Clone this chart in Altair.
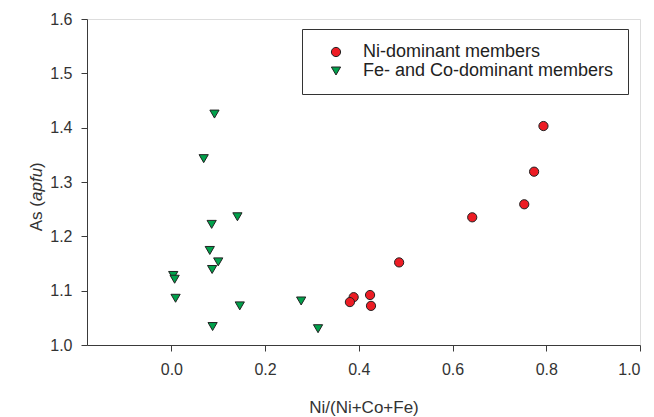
import altair as alt
import pandas as pd

# Ni-dominant members
ni_x = [0.794, 0.774, 0.753, 0.642, 0.486, 0.424, 0.389, 0.381, 0.426]
ni_y = [1.403, 1.319, 1.259, 1.235, 1.152, 1.092, 1.088, 1.079, 1.072]

# Fe- and Co-dominant members
fe_x = [0.092, 0.069, 0.141, 0.086, 0.082, 0.100, 0.087, 0.004, 0.007, 0.009, 0.146, 0.088, 0.277, 0.313]
fe_y = [1.425, 1.343, 1.236, 1.222, 1.174, 1.153, 1.139, 1.128, 1.121, 1.086, 1.072, 1.034, 1.081, 1.030]

groups = ["Ni-dominant members", "Fe- and Co-dominant members"]
colors = ["#ED1C24", "#00A14B"]
shapes = ["circle", "triangle-down"]

x_ticks = [0.0, 0.2, 0.4, 0.6, 0.8, 1.0]
y_ticks = [1.0, 1.1, 1.2, 1.3, 1.4, 1.5, 1.6]

df = pd.concat([
    pd.DataFrame({"x": ni_x, "y": ni_y, "g": groups[0]}),
    pd.DataFrame({"x": fe_x, "y": fe_y, "g": groups[1]}),
])

FONT = "Liberation Sans"
AX = "#3a3a3a"
TXT = "#333333"

points = alt.Chart(df).mark_point(filled=True, stroke="#222222", strokeWidth=1, opacity=1, size=85).encode(
    x=alt.X("x:Q", scale=alt.Scale(domain=[-0.18, 1.0], nice=False, zero=False),
            axis=alt.Axis(values=x_ticks, format=".1f", title="Ni/(Ni+Co+Fe)", grid=False,
                          tickSize=6, domainColor=AX, tickColor=AX, labelColor=TXT,
                          labelFontSize=16, titleFontSize=17, titleFontWeight="normal",
                          labelFont=FONT, titleFont=FONT, titleColor=TXT,
                          labelPadding=10, titlePadding=22)),
    y=alt.Y("y:Q", scale=alt.Scale(domain=[1.0, 1.6], nice=False, zero=False),
            axis=alt.Axis(values=y_ticks, format=".1f", title=None, grid=False,
                          tickSize=6, domainColor=AX, tickColor=AX, labelColor=TXT,
                          labelFontSize=16, labelFont=FONT, labelPadding=9)),
    color=alt.Color("g:N", scale=alt.Scale(domain=groups, range=colors),
                    legend=alt.Legend(title=None, orient="none", legendX=215, legendY=10,
                                      strokeColor="#333", fillColor="white", padding=14,
                                      symbolOffset=11, labelOffset=18, rowPadding=1,
                                      labelFontSize=18, labelFont=FONT, labelColor="#222",
                                      labelLimit=400,
                                      symbolSize=85, symbolStrokeColor="#222", symbolStrokeWidth=1,
                                      symbolOpacity=1)),
    shape=alt.Shape("g:N", scale=alt.Scale(domain=groups, range=shapes)),
)

title_a = alt.Chart(pd.DataFrame({"t": ["As ("]})).mark_text(
    angle=270, align="right", baseline="middle", fontSize=17, font=FONT, color=TXT
).encode(x=alt.value(-50), y=alt.value(182), text="t:N")
title_b = alt.Chart(pd.DataFrame({"t": ["apfu"]})).mark_text(
    angle=270, align="left", baseline="middle", fontSize=17, font=FONT, fontStyle="italic", color=TXT
).encode(x=alt.value(-50), y=alt.value(182), text="t:N")
title_c = alt.Chart(pd.DataFrame({"t": [")"]})).mark_text(
    angle=270, align="left", baseline="middle", fontSize=17, font=FONT, color=TXT
).encode(x=alt.value(-50), y=alt.value(149), text="t:N")

chart = alt.layer(points, title_a, title_b, title_c).properties(
    width=553, height=326,
    padding={"left": 87, "top": 19, "right": 14, "bottom": 72},
    autosize=alt.AutoSizeParams(type="none"),
).configure_view(stroke=AX, strokeWidth=1).configure(background="white")

chart.save("out.html", embed_options={"renderer": "svg", "actions": False})
